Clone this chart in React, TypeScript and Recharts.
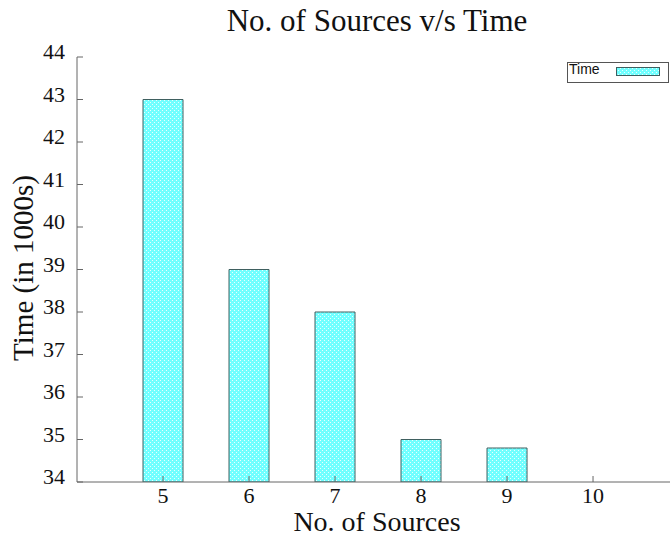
import React from 'react';
import { BarChart, Bar, XAxis, YAxis } from 'recharts';

const sources = [5, 6, 7, 8, 9, 10];
const times: Array<number | null> = [43, 39, 38, 35, 34.8, null];
const yTicks = [34, 35, 36, 37, 38, 39, 40, 41, 42, 43, 44];

const data = sources.map((s, i) => ({ sources: s, time: times[i] }));

const serif = '"Liberation Serif", "Times New Roman", serif';
const frame = '#666';
const barStroke = '#3f6060';

const YTick = (props: any) => {
    const { x, y, payload } = props;
    return (
        <g>
            <line x1={x} y1={y} x2={x + 6} y2={y} stroke={frame} />
            <text x={x - 12} y={y + 2} textAnchor="end" fontFamily={serif} fontSize={22} fill="#111">
                {payload.value}
            </text>
        </g>
    );
};

const XTick = (props: any) => {
    const { x, y, payload } = props;
    return (
        <g>
            <line x1={x} y1={y} x2={x} y2={y - 6} stroke={frame} />
            <text x={x} y={y + 21} textAnchor="middle" fontFamily={serif} fontSize={22} fill="#111">
                {payload.value}
            </text>
        </g>
    );
};

const TopTick = (props: any) => {
    const { x, y } = props;
    return <line x1={x} y1={y} x2={x} y2={y + 6} stroke={frame} />;
};

// cyan fill with a sparse white dot texture, like gnuplot's pattern fill
const CheckerPattern = ({ id }: { id: string }) => (
    <pattern id={id} width={4} height={4} patternUnits="userSpaceOnUse">
        <rect width={4} height={4} fill="#70ffff" />
        <rect x={0} y={0} width={1} height={1} fill="#e8ffff" />
        <rect x={2} y={2} width={1} height={1} fill="#e8ffff" />
    </pattern>
);

export default function App() {
    return (
        <div style={{ position: 'absolute', left: 0, top: 0, width: 670, height: 536, background: '#fff' }}>
            <BarChart
                width={670}
                height={536}
                data={data}
                barSize={40}
                margin={{ top: 57, right: 0, bottom: 0, left: 0 }}
            >
                <defs>
                    <CheckerPattern id="cyanPattern" />
                </defs>
                <XAxis
                    xAxisId="bottom"
                    dataKey="sources"
                    type="number"
                    domain={[4, 10.895]}
                    ticks={sources}
                    height={54}
                    tickSize={0}
                    tickMargin={0}
                    tickLine={false}
                    tick={<XTick />}
                    axisLine={{ stroke: frame }}
                    allowDataOverflow
                />
                <XAxis
                    xAxisId="top"
                    orientation="top"
                    dataKey="sources"
                    type="number"
                    domain={[4, 10.895]}
                    ticks={sources}
                    height={0}
                    tickSize={0}
                    tickMargin={0}
                    tickLine={false}
                    tick={<TopTick />}
                    axisLine={{ stroke: frame }}
                    allowDataOverflow
                />
                <YAxis
                    domain={[34, 44]}
                    ticks={yTicks}
                    width={77}
                    tickSize={0}
                    tickMargin={0}
                    tickLine={false}
                    tick={<YTick />}
                    axisLine={{ stroke: frame }}
                    allowDataOverflow
                />
                <Bar
                    xAxisId="bottom"
                    dataKey="time"
                    name="Time"
                    fill="url(#cyanPattern)"
                    stroke={barStroke}
                    strokeWidth={1}
                    isAnimationActive={false}
                />
            </BarChart>
            <svg
                width={670}
                height={536}
                style={{ position: 'absolute', left: 0, top: 0, pointerEvents: 'none' }}
            >
                <defs>
                    <CheckerPattern id="legendPattern" />
                </defs>
                <text x={377} y={31} textAnchor="middle" fontFamily={serif} fontSize={31} fill="#111">
                    No. of Sources v/s Time
                </text>
                <text x={377} y={531} textAnchor="middle" fontFamily={serif} fontSize={28} fill="#111">
                    No. of Sources
                </text>
                <text
                    x={0}
                    y={0}
                    transform="translate(33 268) rotate(-90)"
                    textAnchor="middle"
                    fontFamily={serif}
                    fontSize={29}
                    fill="#111"
                >
                    Time (in 1000s)
                </text>
                <g>
                    <rect x={567.5} y={62.5} width={101} height={20} fill="#fff" stroke="#555" />
                    <text
                        x={569}
                        y={74}
                        fontFamily='"Liberation Sans", Arial, sans-serif'
                        fontSize={14}
                        fill="#111"
                    >
                        Time
                    </text>
                    <rect x={616.5} y={67.5} width={43} height={8} fill="url(#legendPattern)" stroke={barStroke} />
                </g>
            </svg>
        </div>
    );
}
